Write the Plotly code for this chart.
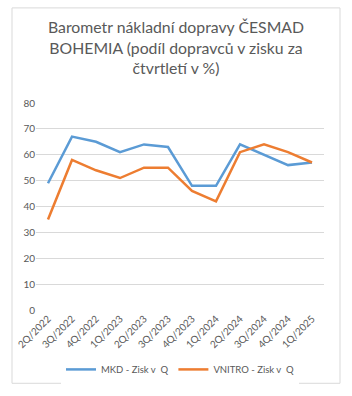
import plotly.graph_objects as go

quarters = ["2Q/2022", "3Q/2022", "4Q/2022", "1Q/2023", "2Q/2023", "3Q/2023",
            "4Q/2023", "1Q/2024", "2Q/2024", "3Q/2024", "4Q/2024", "1Q/2025"]
mkd = [49, 67, 65, 61, 64, 63, 48, 48, 64, 60, 56, 57]
vnitro = [35, 58, 54, 51, 55, 55, 46, 42, 61, 64, 61, 57]
y_ticks = [0, 10, 20, 30, 40, 50, 60, 70, 80]

FONT = "Lato"
GRAY = "#595959"

fig = go.Figure()
fig.add_trace(go.Scatter(x=quarters, y=mkd, mode="lines",
                         name="MKD - Zisk v\u00a0 Q",
                         line=dict(color="#5B9BD5", width=2.5)))
fig.add_trace(go.Scatter(x=quarters, y=vnitro, mode="lines",
                         name="VNITRO - Zisk v\u00a0 Q",
                         line=dict(color="#ED7D31", width=2.5)))

fig.update_layout(
    width=352, height=396,
    margin=dict(l=36, r=28, t=103, b=84),
    paper_bgcolor="white", plot_bgcolor="white",
    font=dict(family=FONT, color=GRAY, size=10),
    title=dict(text="Barometr nákladní dopravy ČESMAD<br>BOHEMIA (podíl dopravců v zisku za<br>čtvrtletí v %)",
               x=0.5, xref="container", xanchor="center",
               y=1 - 33 / 396, yref="container", yanchor="top",
               font=dict(family=FONT, size=15.8, color=GRAY)),
    xaxis=dict(showgrid=False, showline=False, tickangle=-45, ticks="",
               range=[-0.5, len(quarters) - 0.5],
               tickfont=dict(size=10, color=GRAY), fixedrange=True),
    yaxis=dict(range=[0, 80], tickvals=y_ticks, showgrid=True, gridcolor="#D9D9D9",
               gridwidth=1, zeroline=False, showline=False, ticks="",
               tickfont=dict(size=10, color=GRAY), fixedrange=True),
    legend=dict(orientation="h", x=0.5, xanchor="center", y=-0.287, yanchor="middle",
                font=dict(size=9.5, color=GRAY)),
    showlegend=True,
)

fig.add_shape(type="rect", xref="paper", yref="paper",
              x0=(12 - 36) / 288, x1=(340 - 36) / 288,
              y0=(312 - 386) / 209, y1=(312 - 7) / 209,
              line=dict(color="#D9D9D9", width=1), fillcolor="rgba(0,0,0,0)", layer="below")

fig.write_html("out.html")
